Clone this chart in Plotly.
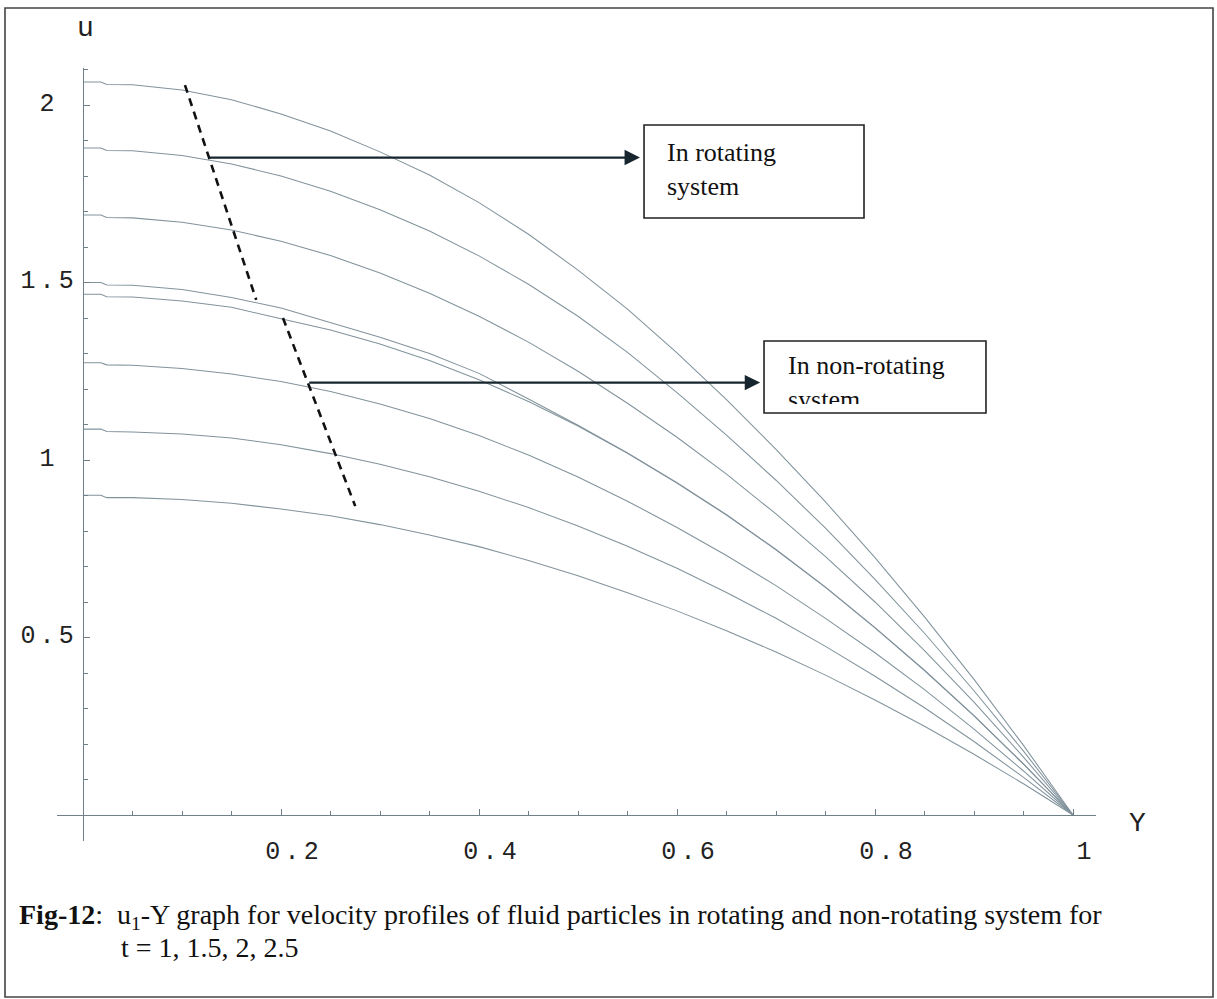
import plotly.graph_objects as go

# ---------------- data ----------------
Y_grid = [0, 0.018, 0.024, 0.05, 0.1, 0.15, 0.2, 0.25, 0.3, 0.35, 0.4, 0.45,
          0.5, 0.55, 0.6, 0.65, 0.7, 0.75, 0.8, 0.85, 0.9, 0.95, 1.0]

# rotating system (upper group of profiles)
u_rot_a = [2.065, 2.065, 2.058, 2.057, 2.042, 2.015, 1.975, 1.927, 1.868, 1.803, 1.725, 1.636,
           1.535, 1.425, 1.302, 1.170, 1.030, 0.882, 0.725, 0.558, 0.382, 0.196, 0.0]
u_rot_b = [1.879, 1.879, 1.872, 1.871, 1.858, 1.834, 1.800, 1.757, 1.705, 1.645, 1.575, 1.495,
           1.405, 1.303, 1.190, 1.070, 0.943, 0.808, 0.664, 0.512, 0.350, 0.180, 0.0]
u_rot_c = [1.690, 1.690, 1.683, 1.682, 1.670, 1.648, 1.616, 1.576, 1.527, 1.470, 1.405, 1.332,
           1.250, 1.160, 1.064, 0.960, 0.848, 0.728, 0.600, 0.463, 0.318, 0.163, 0.0]
u_rot_d = [1.500, 1.500, 1.493, 1.492, 1.480, 1.458, 1.428, 1.388, 1.346, 1.300, 1.244, 1.172,
           1.098, 1.020, 0.936, 0.846, 0.748, 0.642, 0.528, 0.408, 0.280, 0.144, 0.0]
# non-rotating system (lower group of profiles)
u_non_a = [1.467, 1.467, 1.460, 1.459, 1.448, 1.430, 1.398, 1.366, 1.327, 1.280, 1.226, 1.165,
           1.096, 1.019, 0.935, 0.845, 0.747, 0.641, 0.527, 0.407, 0.279, 0.143, 0.0]
u_non_b = [1.274, 1.274, 1.268, 1.267, 1.258, 1.242, 1.221, 1.193, 1.158, 1.117, 1.069, 1.014,
           0.952, 0.884, 0.810, 0.731, 0.646, 0.554, 0.457, 0.353, 0.242, 0.124, 0.0]
u_non_c = [1.087, 1.087, 1.080, 1.079, 1.073, 1.062, 1.043, 1.018, 0.988, 0.953, 0.912, 0.866,
           0.814, 0.757, 0.695, 0.627, 0.554, 0.475, 0.391, 0.302, 0.207, 0.106, 0.0]
u_non_d = [0.901, 0.901, 0.894, 0.894, 0.889, 0.878, 0.862, 0.843, 0.818, 0.789, 0.756, 0.717,
           0.674, 0.626, 0.575, 0.519, 0.459, 0.394, 0.324, 0.250, 0.171, 0.088, 0.0]

series = {
    "rotating 1": u_rot_a, "rotating 2": u_rot_b, "rotating 3": u_rot_c, "rotating 4": u_rot_d,
    "non-rotating 1": u_non_a, "non-rotating 2": u_non_b, "non-rotating 3": u_non_c,
    "non-rotating 4": u_non_d,
}

# dashed grouping lines
dash_rot_Y = [0.103, 0.175]
dash_rot_u = [2.056, 1.451]
dash_non_Y = [0.202, 0.275]
dash_non_u = [1.400, 0.870]

# arrows: (tail Y, tail u, head Y, head u)
arrow_rot = (0.126, 1.852, 0.5626, 1.852)
arrow_non = (0.227, 1.218, 0.684, 1.218)

x_ticks = [0.2, 0.4, 0.6, 0.8, 1.0]
x_labels = ["0.2", "0.4", "0.6", "0.8", "1"]
y_ticks = [0.5, 1.0, 1.5, 2.0]
y_labels = ["0.5", "1", "1.5", "2"]

caption_1 = ("<b>Fig-12</b>:\u00a0\u00a0u<sub>1</sub>-Y graph for velocity profiles of fluid "
             "particles in rotating and non-rotating system for")
caption_2 = "t = 1, 1.5, 2, 2.5"

# ---------------- helpers for Mathematica-like spaced monospace labels ----------------
SPACER = "<span style='font-size:7px'>\u00a0</span>"


def spaced(label, pad_to=None):
    chars = list(label)
    if pad_to is not None and len(chars) < pad_to:
        extra = pad_to - len(chars)
        left = extra // 2 + extra % 2
        chars = ["\u00a0"] * left + chars + ["\u00a0"] * (extra - left)
    return SPACER.join(chars)


x_ticktext = [spaced(t) for t in x_labels]
y_ticktext = [spaced(t, pad_to=3) for t in y_labels]

# ---------------- figure ----------------
X_RANGE = [-0.02626, 1.02323]
Y_RANGE = [-0.07324, 2.10423]
CURVE_COLOR = "#82939c"
AXIS_COLOR = "#6f8089"
MONO = "Liberation Mono"
SERIF = "Liberation Serif, Times New Roman, serif"

fig = go.Figure()
for name, vals in series.items():
    fig.add_trace(go.Scatter(x=Y_grid, y=vals, mode="lines", name=name,
                             line=dict(color=CURVE_COLOR, width=1.05), hoverinfo="skip"))

for xs, ys in [(dash_rot_Y, dash_rot_u), (dash_non_Y, dash_non_u)]:
    fig.add_trace(go.Scatter(x=xs, y=ys, mode="lines", showlegend=False,
                             line=dict(color="#111111", width=2.6, dash="8px,6px"),
                             hoverinfo="skip"))

for (tx, ty, hx, hy) in [arrow_rot, arrow_non]:
    fig.add_annotation(x=hx, y=hy, ax=tx, ay=ty, xref="x", yref="y", axref="x", ayref="y",
                       text="", showarrow=True, arrowhead=2, arrowsize=1.4, arrowwidth=2.2,
                       arrowcolor="#17262e", standoff=0)

# boxes
fig.add_shape(type="rect", xref="x", yref="y", x0=0.5667, x1=0.7889, y0=1.6817, y1=1.9437,
              line=dict(color="#222222", width=1.6), fillcolor="rgba(0,0,0,0)")
fig.add_shape(type="rect", xref="x", yref="y", x0=0.6879, x1=0.9121, y0=1.1324, y1=1.3352,
              line=dict(color="#222222", width=1.6), fillcolor="rgba(0,0,0,0)")

fig.add_annotation(x=0.5879, y=1.8197, xref="x", yref="y", xanchor="left", yanchor="middle",
                   align="left", showarrow=False, text="In rotating<br>system",
                   font=dict(family=SERIF, size=26, color="#111111"))
fig.add_annotation(x=0.7111, y=1.3098, xref="x", yref="y", xanchor="left", yanchor="top",
                   align="left", valign="top", height=53, borderpad=0, showarrow=False,
                   text="In non-rotating<br>system",
                   font=dict(family=SERIF, size=26, color="#111111"))

# axis labels
fig.add_annotation(x=0.02695, y=1.0517, xref="paper", yref="paper", showarrow=False,
                   xanchor="center", yanchor="middle",
                   text="u", font=dict(family=MONO, size=28, color="#222222"))
fig.add_annotation(x=1.0395, y=0.0220, xref="paper", yref="paper", showarrow=False,
                   xanchor="center", yanchor="middle",
                   text="Y", font=dict(family=MONO, size=28, color="#222222"))

# caption
fig.add_annotation(x=-0.0385, y=-0.0983, xref="paper", yref="paper", xanchor="left",
                   yanchor="middle", showarrow=False, text=caption_1, align="left",
                   font=dict(family=SERIF, size=28, color="#111111"))
fig.add_annotation(x=0.0597, y=-0.1384, xref="paper", yref="paper", xanchor="left",
                   yanchor="middle", showarrow=False, text=caption_2, align="left",
                   font=dict(family=SERIF, size=28, color="#111111"))

# page frame
fig.add_shape(type="rect", xref="paper", yref="paper", x0=-0.05005, x1=1.11261,
              y0=-0.2018, y1=1.07762, line=dict(color="#444444", width=1.6),
              fillcolor="rgba(0,0,0,0)", layer="below")

fig.update_layout(
    width=1217, height=999,
    margin=dict(l=57, r=121, t=68, b=158),
    paper_bgcolor="white", plot_bgcolor="white",
    showlegend=False,
    xaxis=dict(range=X_RANGE, anchor="free", position=0.03364, showline=True,
               linecolor=AXIS_COLOR, linewidth=1.3, showgrid=False, zeroline=False,
               tickmode="array", tickvals=x_ticks, ticktext=x_ticktext,
               ticks="inside", ticklen=6, tickwidth=1, tickcolor=AXIS_COLOR,
               tickfont=dict(family=MONO, size=25, color="#222222"),
               ticklabelshift=11, ticklabelstandoff=13,
               minor=dict(ticks="inside", ticklen=4, tickwidth=1, tickcolor=AXIS_COLOR,
                          tickmode="linear", tick0=0, dtick=0.05),
               automargin=False, fixedrange=True),
    yaxis=dict(range=Y_RANGE, anchor="free", position=0.02502, showline=True,
               linecolor=AXIS_COLOR, linewidth=1.3, showgrid=False, zeroline=False,
               tickmode="array", tickvals=y_ticks, ticktext=y_ticktext,
               ticks="inside", ticklen=6, tickwidth=1, tickcolor=AXIS_COLOR,
               tickfont=dict(family=MONO, size=25, color="#222222"),
               ticklabelshift=-3, ticklabelstandoff=4,
               minor=dict(ticks="inside", ticklen=4, tickwidth=1, tickcolor=AXIS_COLOR,
                          tickmode="linear", tick0=0, dtick=0.1),
               automargin=False, fixedrange=True),
)

fig.write_html("out.html")
